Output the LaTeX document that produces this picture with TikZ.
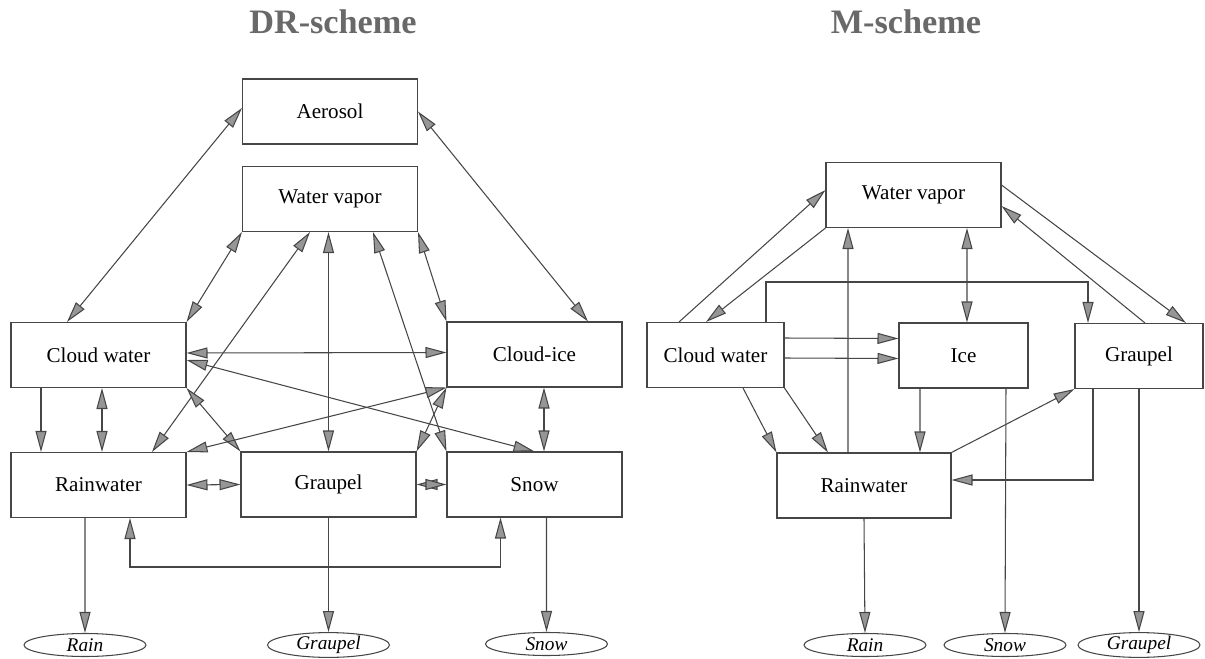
\documentclass[tikz,border=0pt]{standalone}
\usepackage{fontspec}
\setmainfont{Liberation Serif}
\usepackage{tikz}
\usetikzlibrary{shapes,arrows.meta,positioning,calc}
\usepackage{xcolor}
\definecolor{linegray}{RGB}{70,70,70}
\definecolor{tipgray}{RGB}{150,150,150}
\definecolor{titlegray}{RGB}{105,105,105}

\tikzset{
  box/.style={draw=linegray, line width=0.6pt, minimum width=3.5cm, minimum height=1.3cm, inner sep=0pt, font=\rmfamily\fontsize{12pt}{14pt}\selectfont},
  sink/.style={draw=linegray, line width=0.6pt, ellipse, minimum width=2.44cm, minimum height=0.46cm, inner sep=0pt, font=\rmfamily\fontsize{11pt}{13pt}\selectfont\itshape},
  heading/.style={anchor=base, text=titlegray, font=\rmfamily\fontsize{19.5pt}{23pt}\selectfont\bfseries},
  flow/.style={draw=linegray, line width=0.6pt}
}

\begin{document}
\begin{tikzpicture}[x=0.02cm, y=-0.02cm, >={Triangle[length=0.42cm, width=0.22cm, fill=tipgray]}]
\useasboundingbox (0,0) rectangle (1205,659);

% DR-scheme
\node[heading] (titleDR) at (333,33) {DR-scheme};
\node[box] (aer) at (330,111.5) {Aerosol};
\node[box] (vapDR) at (330,199) {Water vapor};
\node[box] (cwDR) at (98.5,355) {Cloud water};
\node[box] (ciDR) at (534.5,354.5) {Cloud-ice};
\node[box] (rwDR) at (98.5,485) {Rainwater};
\node[box] (grDR) at (328.5,484.5) {Graupel};
\node[box] (snDR) at (534.5,484.5) {Snow};
\node[sink] (rainDR) at (85,645) {Rain};
\node[sink] (grpDR) at (328.5,645) {Graupel};
\node[sink] (snowDR) at (546.5,644) {Snow};

% exchanges with aerosol and vapour
\draw[flow,<->] ([yshift=0.07cm]aer.west) -- ([xshift=-0.63cm]cwDR.north);
\draw[flow,<->] (aer.east) -- ([xshift=1.07cm]ciDR.north);
\draw[flow,<->] (vapDR.south west) -- (cwDR.north east);
\draw[flow,<->] ([xshift=1.07cm]rwDR.north) -- ([xshift=-0.4cm]vapDR.south);
\draw[flow,<->] (grDR.north) -- (grDR.north |- vapDR.south);
\draw[flow,<->] (snDR.north west) -- ([xshift=0.86cm]vapDR.south);
\draw[flow,<->] (vapDR.south east) -- (ciDR.north west);

% between hydrometeors
\draw[flow,<->] ([yshift=0.04cm]cwDR.east) -- ([yshift=0.04cm]ciDR.west);
\draw[flow,<->] ([yshift=-0.1cm]cwDR.east) -- (snDR.north);
\draw[flow,->] ([xshift=-1.15cm]cwDR.south) -- ([xshift=-1.15cm]rwDR.north);
\draw[flow,<->] ([xshift=0.07cm]cwDR.south) -- ([xshift=0.07cm]rwDR.north);
\draw[flow,<->] (cwDR.south east) -- (grDR.north west);
\draw[flow,<->] (ciDR.south west) -- (rwDR.north east);
\draw[flow,<->] (grDR.north east) -- (ciDR.south west);
\draw[flow,<->] ([xshift=0.19cm]ciDR.south) -- ([xshift=0.19cm]snDR.north);
\draw[flow,<->] (rwDR.east) -- (grDR.west);
\draw[flow,<->] (grDR.east) -- (snDR.west);
\coordinate (loopDR) at (315,567);
\draw[flow,<->] ([xshift=0.63cm]rwDR.south) |- (loopDR) -| ([xshift=-0.68cm]snDR.south);

% fallout
\draw[flow,->] ([xshift=-0.27cm]rwDR.south) -- (rainDR.north);
\draw[flow,->] (grDR.south) -- (grpDR.north);
\draw[flow,->] ([xshift=0.24cm]snDR.south) -- (snowDR.north);

% M-scheme
\node[heading] (titleM) at (906,33) {M-scheme};
\node[box] (vapM) at (913.5,195) {Water vapor};
\node[box, minimum width=2.74cm] (cwM) at (715.5,355) {Cloud water};
\node[box, minimum width=2.58cm] (iceM) at (963.5,355.5) {Ice};
\node[box, minimum width=2.56cm] (grM) at (1139,356) {Graupel};
\node[box, minimum width=3.48cm] (rwM) at (864,485.5) {Rainwater};
\node[sink] (rainM) at (865,645) {Rain};
\node[sink] (snowM) at (1005,645) {Snow};
\node[sink] (grpM) at (1139,645) {Graupel};

% exchanges with vapour
\draw[flow,->] ([xshift=-0.73cm]cwM.north) -- ([yshift=0.1cm]vapM.west);
\draw[flow,->] (vapM.south west) -- ([xshift=-0.19cm]cwM.north);
\draw[flow,->] ([xshift=-0.32cm]rwM.north) -- ([xshift=-1.31cm]vapM.south);
\draw[flow,<->] ([xshift=1.07cm]vapM.south) -- ([xshift=0.07cm]iceM.north);
\draw[flow,->] ([yshift=0.2cm]vapM.east) -- ([xshift=0.94cm]grM.north);
\draw[flow,->] ([xshift=0.12cm]grM.north) -- ([yshift=-0.22cm]vapM.east);

% between hydrometeors
\coordinate (loopM) at (900,282);
\draw[flow,->] ([xshift=1.01cm]cwM.north) |- (loopM) -| ([xshift=-1.02cm]grM.north);
\draw[flow,->] ([yshift=0.34cm]cwM.east) -- ([yshift=0.34cm]iceM.west);
\draw[flow,->] ([yshift=-0.06cm]cwM.east) -- ([yshift=-0.06cm]iceM.west);
\draw[flow,->] ([xshift=0.55cm]cwM.south) -- (rwM.north west);
\draw[flow,->] (cwM.south east) -- ([xshift=-0.72cm]rwM.north);
\draw[flow,->] ([xshift=-0.87cm]iceM.south) -- ([xshift=1.12cm]rwM.north);
\draw[flow,->] (rwM.north east) -- (grM.south west);
\draw[flow,->] ([xshift=-0.92cm]grM.south) |- ([yshift=0.11cm]rwM.east);

% fallout
\draw[flow,->] (rwM.south) -- (rainM.north);
\draw[flow,->] ([xshift=0.85cm]iceM.south) -- (snowM.north);
\draw[flow,->] (grM.south) -- (grpM.north);
\end{tikzpicture}
\end{document}
